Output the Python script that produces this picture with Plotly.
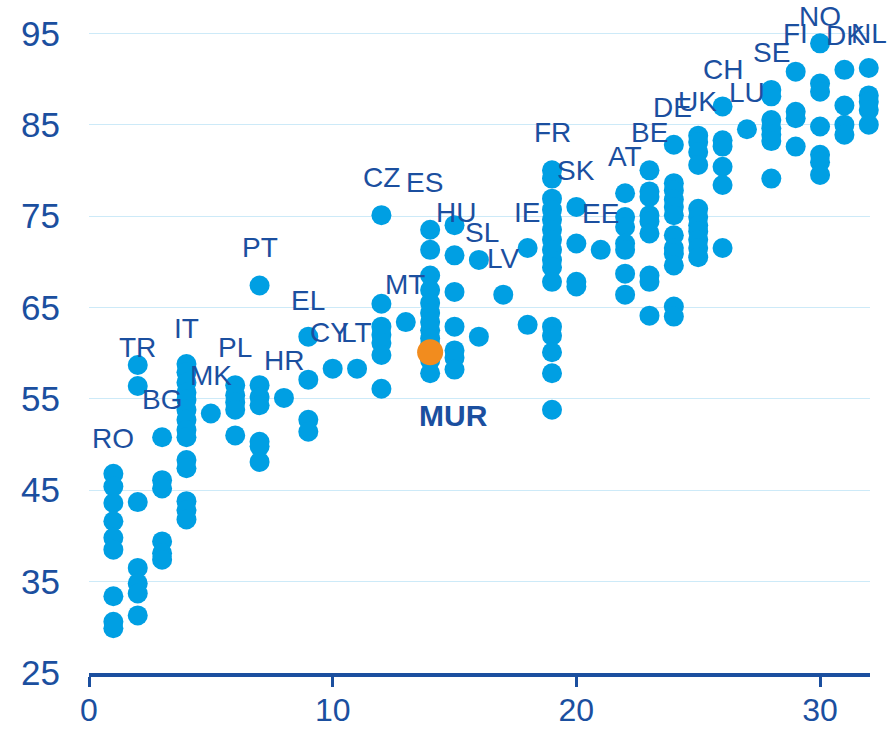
import plotly.graph_objects as go

# regional scores, grouped by rank column
columns = list(range(1, 33))
scores = [
    [46.8, 45.4, 43.6, 41.6, 39.8, 38.5, 33.4, 30.6, 29.9],
    [58.7, 56.4, 43.7, 36.5, 34.8, 33.7, 31.3],
    [50.8, 46.1, 45.2, 39.4, 38.1, 37.4],
    [58.8, 57.9, 56.8, 55.7, 54.9, 53.8, 52.7, 51.6, 50.8, 48.3, 47.4, 43.8, 42.8, 41.8],
    [53.4],
    [56.5, 55.4, 54.6, 53.8, 51.0],
    [67.4, 56.5, 55.2, 54.3, 50.3, 49.8, 48.1],
    [55.1],
    [61.8, 57.1, 52.7, 51.4],
    [58.3],
    [58.3],
    [75.1, 65.4, 62.9, 62.0, 61.1, 59.8, 56.1],
    [63.4],
    [73.5, 71.3, 68.5, 66.9, 65.5, 64.4, 63.4, 62.5, 61.6, 60.9, 59.2, 57.8],
    [74.0, 70.7, 66.7, 62.9, 60.3, 59.5, 58.2],
    [70.2, 61.8],
    [66.4],
    [71.5, 63.1],
    [80.0, 79.1, 76.9, 75.7, 74.6, 73.5, 72.4, 71.3, 70.2, 69.4, 67.8, 62.9, 61.9, 60.1, 57.8, 53.8],
    [76.0, 72.0, 67.8, 67.3],
    [71.3],
    [77.5, 74.9, 73.8, 72.0, 71.3, 68.7, 66.4],
    [80.0, 77.7, 77.1, 75.1, 74.4, 73.1, 68.5, 67.8, 64.1],
    [82.8, 78.6, 77.8, 76.8, 76.0, 75.1, 72.9, 71.5, 70.9, 69.6, 65.1, 64.0],
    [83.8, 83.1, 82.0, 80.6, 75.8, 74.9, 74.0, 73.3, 72.4, 71.5, 70.5],
    [87.0, 83.3, 82.6, 80.4, 78.4, 71.5],
    [84.5],
    [88.8, 88.1, 85.5, 84.6, 83.9, 83.2, 79.1],
    [90.8, 86.4, 85.7, 82.6],
    [93.9, 89.5, 88.6, 84.8, 81.7, 80.9, 79.5],
    [91.0, 87.1, 85.0, 83.9],
    [91.2, 88.2, 87.5, 86.6, 85.0],
]

# highlighted region
mur_x = [14]
mur_y = [60.1]

# country labels and where they sit
countries = ["RO", "TR", "BG", "IT", "MK", "PL", "PT", "HR", "EL", "CY", "LT",
             "CZ", "MT", "ES", "HU", "SL", "LV", "IE", "FR", "SK", "EE", "AT",
             "BE", "DE", "UK", "CH", "LU", "SE", "FI", "NO", "DK", "NL"]
label_x = [1, 2, 3, 4, 5, 6, 7, 8, 9, 9.85, 10.96,
           12.02, 12.97, 13.75, 15.06, 16.13, 16.99, 17.97, 19, 20, 21, 22,
           23, 23.96, 24.98, 26, 27, 28, 29, 30, 31.06, 32]
label_y = [50.7, 60.6, 54.9, 62.7, 57.5, 60.6, 71.6, 59.2, 65.8, 62.3, 62.3,
           79.2, 67.5, 78.7, 75.4, 73.2, 70.4, 75.4, 84.1, 80.0, 75.3, 81.5,
           84.1, 86.9, 87.5, 91.0, 88.5, 92.9, 95.0, 96.8, 94.8, 95.0]

xticks = [0, 10, 20, 30]
yticks = [25, 35, 45, 55, 65, 75, 85, 95]

dark_blue = "#1b4f9f"
font_family = "Liberation Sans, Arial, sans-serif"

xs, ys = [], []
for c, vals in zip(columns, scores):
    for v in vals:
        xs.append(c)
        ys.append(v)

fig = go.Figure()

fig.add_trace(go.Scatter(
    x=xs, y=ys,
    mode="markers",
    marker=dict(color="#009fe3", size=20, line=dict(width=0)),
    cliponaxis=False,
    showlegend=False
))

fig.add_trace(go.Scatter(
    x=mur_x, y=mur_y,
    mode="markers",
    marker=dict(color="#f28c1e", size=26, line=dict(width=0)),
    cliponaxis=False,
    showlegend=False
))

for name, lx, ly in zip(countries, label_x, label_y):
    fig.add_annotation(
        x=lx, y=ly, text=name, showarrow=False,
        xanchor="center", yanchor="middle",
        font=dict(size=28, color=dark_blue, family=font_family)
    )

# MUR label
fig.add_annotation(
    x=14.94, y=53.2, text="<b>MUR</b>", showarrow=False,
    xanchor="center", yanchor="middle",
    font=dict(size=30, color=dark_blue, family=font_family)
)

fig.update_layout(
    width=889, height=734,
    margin=dict(l=89, r=19, t=15, b=61),
    plot_bgcolor="white",
    paper_bgcolor="white",
    font=dict(family=font_family, color=dark_blue),
    xaxis=dict(
        range=[0, 32.05],
        tickvals=xticks,
        ticks="outside", ticklen=10, tickwidth=3, tickcolor=dark_blue,
        showline=True, linecolor=dark_blue, linewidth=4,
        showgrid=False, zeroline=False,
        tickfont=dict(size=32, color=dark_blue),
        ticklabelstandoff=-4,
        automargin=False
    ),
    yaxis=dict(
        range=[25, 97],
        tickvals=yticks,
        ticks="",
        showline=False,
        showgrid=True, gridcolor="#cdeaf8", gridwidth=1,
        zeroline=False,
        tickfont=dict(size=35, color=dark_blue),
        ticklabelstandoff=28,
        automargin=False
    )
)

# drop the default 8px body margin so the figure fills the window
fig.write_html(
    "out.html",
    config={"displayModeBar": False},
    post_script="document.body.style.margin='0';"
)
